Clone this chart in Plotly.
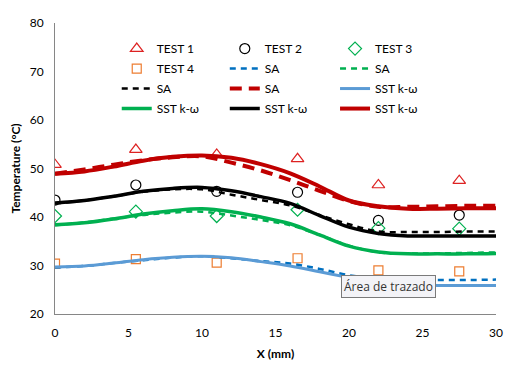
import plotly.graph_objects as go

# ---- data ----
x_test = [0, 5.5, 11, 16.5, 22, 27.5]
test1 = [50.8, 53.9, 52.9, 52.0, 46.6, 47.5]
test2 = [43.5, 46.6, 45.3, 45.1, 39.3, 40.4]
test3 = [40.2, 41.1, 40.2, 41.5, 37.7, 37.6]
test4 = [30.4, 31.3, 30.6, 31.5, 29.0, 28.8]

x_sim = [0, 2, 4, 6, 8, 10, 12, 14, 16, 18, 20, 22, 24, 26, 28, 30]
sa_blue = [29.6, 29.9, 30.5, 31.1, 31.6, 31.9, 31.5, 30.9, 30.4, 29.3, 28.0, 27.2, 27.0, 27.0, 27.0, 27.1]
sa_green = [38.3, 38.9, 39.7, 40.4, 40.9, 41.1, 40.3, 39.4, 38.3, 36.3, 34.1, 32.7, 32.5, 32.5, 32.6, 32.7]
sa_black = [42.8, 43.4, 44.3, 45.2, 45.7, 45.7, 44.6, 43.5, 42.4, 40.4, 38.5, 37.0, 36.9, 36.9, 37.0, 37.0]
sa_red = [48.9, 49.8, 50.8, 51.7, 52.3, 52.5, 51.2, 49.6, 47.6, 45.4, 43.3, 42.1, 42.1, 42.2, 42.3, 42.3]
sst_blue = [29.7, 29.9, 30.5, 31.2, 31.7, 31.9, 31.6, 30.8, 29.9, 28.7, 27.5, 26.4, 26.0, 25.9, 25.9, 25.9]
sst_green = [38.4, 38.8, 39.6, 40.6, 41.3, 41.7, 41.1, 40.0, 38.6, 36.3, 34.0, 32.8, 32.4, 32.4, 32.4, 32.5]
sst_black = [42.9, 43.4, 44.3, 45.3, 45.9, 46.1, 45.4, 44.2, 42.8, 40.3, 37.9, 36.6, 36.1, 36.1, 36.1, 36.1]
sst_red = [48.9, 49.4, 50.4, 51.6, 52.4, 52.7, 52.2, 50.9, 49.0, 46.3, 43.4, 42.2, 41.7, 41.7, 41.8, 41.8]

x_ticks = [0, 5, 10, 15, 20, 25, 30]
y_ticks = [20, 30, 40, 50, 60, 70, 80]

FONT = "Lato"
fig = go.Figure()

markers = [
    ("TEST 1", test1, "triangle-up-open", "#DD2222", 11),
    ("TEST 2", test2, "circle-open", "#000000", 10),
    ("TEST 3", test3, "diamond-open", "#00B050", 10),
    ("TEST 4", test4, "square-open", "#ED7D31", 9),
]
lines = [
    ("SA", sa_blue, "#0070C0", 2.5, "6px,5px"),
    ("SA", sa_green, "#00B050", 2.5, "6px,5px"),
    ("SA", sa_black, "#000000", 2.5, "6px,5px"),
    ("SA", sa_red, "#C00000", 4, "12px,7px"),
    ("SST k-\u03c9", sst_blue, "#5B9BD5", 3, "solid"),
    ("SST k-\u03c9", sst_green, "#00B050", 3.5, "solid"),
    ("SST k-\u03c9", sst_black, "#000000", 3.5, "solid"),
    ("SST k-\u03c9", sst_red, "#C00000", 4, "solid"),
]
legend_names = ["legend", "legend2", "legend3"]
i = 0
for name, ys, sym, col, sz in markers:
    fig.add_trace(go.Scatter(x=x_test, y=ys, mode="markers", name=name,
                             marker=dict(symbol=sym, color=col, size=sz, line=dict(width=1.2, color=col)),
                             legend=legend_names[i % 3], legendgroup="g%d" % i))
    i += 1
for name, ys, col, w, dash in lines:
    fig.add_trace(go.Scatter(x=x_sim, y=ys, mode="lines", name=name,
                             line=dict(color=col, width=w, dash=dash, shape="spline"),
                             legend=legend_names[i % 3], legendgroup="g%d" % i))
    i += 1

leg_common = dict(yanchor="top", y=0.962, xanchor="left", bgcolor="rgba(0,0,0,0)",
                  font=dict(family=FONT, size=12, color="#000"), traceorder="grouped",
                  tracegroupgap=1, itemwidth=30)
fig.update_layout(
    width=519, height=368,
    margin=dict(l=47, r=31, t=15, b=62),
    paper_bgcolor="white", plot_bgcolor="white",
    font=dict(family=FONT, size=12, color="#000"),
    legend=dict(x=0.14, **leg_common),
    legend2=dict(x=0.385, **leg_common),
    legend3=dict(x=0.635, **leg_common),
    xaxis=dict(range=[0, 30], tickvals=x_ticks, showgrid=False, zeroline=False,
               showline=True, linecolor="#868686", linewidth=1, ticks="",
               ticklabelstandoff=8, automargin=False,
               title=dict(text="<b>X (mm)</b>", font=dict(family=FONT, size=12), standoff=10)),
    yaxis=dict(range=[20, 80], tickvals=y_ticks, showgrid=False, zeroline=False,
               showline=True, linecolor="#868686", linewidth=1, ticks="",
               ticklabelstandoff=8, automargin=False,
               title=dict(text="<b>Temperature (\u00b0C)</b>", font=dict(family=FONT, size=12), standoff=6)),
    annotations=[dict(text="\u00c1rea de trazado", xref="paper", yref="paper",
                      x=0.757, y=0.095, xanchor="center", yanchor="middle", showarrow=False,
                      font=dict(family="Open Sans", size=12, color="#333"),
                      bgcolor="#F3F3F7", bordercolor="#7A7A7A", borderwidth=1, borderpad=2)],
)

fig.write_html("out.html")
